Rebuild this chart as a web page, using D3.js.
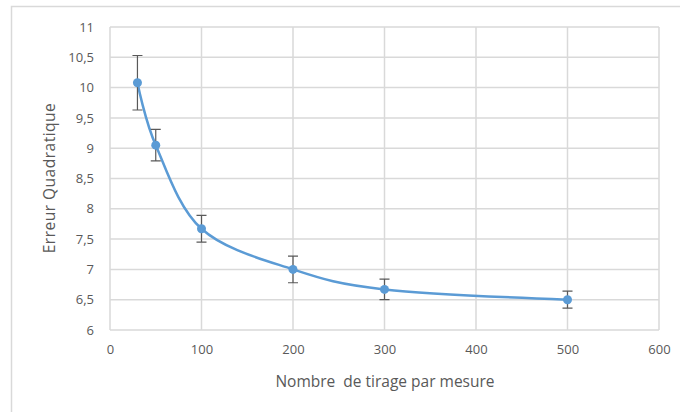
<!DOCTYPE html>
<html>
<head>
<meta charset="utf-8">
<script src="https://cdn.jsdelivr.net/npm/d3@7"></script>
<style>
  body { margin: 0; background: #fff; }
  svg text { font-family: "Open Sans", Lato, sans-serif; fill: #595959; }
</style>
</head>
<body>
<div id="chart"></div>
<script>
const WIDTH = 680;
const HEIGHT = 412;

// data
const tirages = [30, 50, 100, 200, 300, 500];
const erreurs = [10.08, 9.05, 7.67, 7.0, 6.67, 6.5];
const ecarts = [0.45, 0.26, 0.22, 0.22, 0.17, 0.14];

const xTicks = [0, 100, 200, 300, 400, 500, 600];
const yTicks = [6, 6.5, 7, 7.5, 8, 8.5, 9, 9.5, 10, 10.5, 11];

const MARGIN = { top: 27, bottom: 82, left: 110, right: 21 };

const svg = d3.select("#chart").append("svg")
    .attr("width", WIDTH)
    .attr("height", HEIGHT);

// outer chart frame
svg.append("rect")
    .attr("x", 11.5).attr("y", 6.5)
    .attr("width", 700).attr("height", 420)
    .attr("fill", "#fff")
    .attr("stroke", "#d9d9d9")
    .attr("stroke-width", 1.5);

const x = d3.scaleLinear()
    .domain([0, 600])
    .range([MARGIN.left, WIDTH - MARGIN.right]);

const y = d3.scaleLinear()
    .domain([6, 11])
    .range([HEIGHT - MARGIN.bottom, MARGIN.top]);

const fmt = (d) => String(d).replace(".", ",");

// grid
const grid = svg.append("g");
grid.selectAll(".hgrid")
    .data(yTicks)
    .join("line")
    .attr("x1", x(0)).attr("x2", x(600))
    .attr("y1", (d) => y(d)).attr("y2", (d) => y(d))
    .attr("stroke", "#d9d9d9")
    .attr("stroke-width", 1.5);
grid.selectAll(".vgrid")
    .data(xTicks)
    .join("line")
    .attr("y1", y(6)).attr("y2", y(11))
    .attr("x1", (d) => x(d)).attr("x2", (d) => x(d))
    .attr("stroke", "#d9d9d9")
    .attr("stroke-width", 1.5);

// axes (labels only, lines come from the grid)
let xAxis = svg.append("g")
    .attr("transform", `translate(0, ${y(6)})`)
    .call(d3.axisBottom(x).tickValues(xTicks).tickSize(0).tickPadding(15).tickFormat(fmt));
let yAxis = svg.append("g")
    .attr("transform", `translate(${x(0)}, 0)`)
    .call(d3.axisLeft(y).tickValues(yTicks).tickSize(0).tickPadding(16).tickFormat(fmt));
xAxis.select(".domain").remove();
yAxis.select(".domain").remove();
xAxis.selectAll("text").attr("font-size", 13).style("font-family", "'Open Sans', sans-serif").attr("fill", "#595959");
yAxis.selectAll("text").attr("font-size", 13).style("font-family", "'Open Sans', sans-serif").attr("fill", "#595959");

// titles
svg.append("text")
    .text("Nombre  de tirage par mesure")
    .attr("x", 385)
    .attr("y", 387)
    .attr("text-anchor", "middle")
    .attr("font-size", 15.5)
    .style("white-space", "pre");

svg.append("text")
    .text("Erreur Quadratique")
    .attr("transform", "translate(55, 178) rotate(-90)")
    .attr("text-anchor", "middle")
    .attr("font-size", 15.5)
    .attr("letter-spacing", 0.5);

const points = tirages.map((t, i) => ({ x: t, y: erreurs[i], e: ecarts[i] }));

// smoothed line
svg.append("path")
    .datum(points)
    .attr("fill", "none")
    .attr("stroke", "#5b9bd5")
    .attr("stroke-width", 2.5)
    .attr("d", d3.line()
        .x((d) => x(d.x))
        .y((d) => y(d.y))
        .curve(d3.curveCardinal.tension(0)));

// error bars
const bars = svg.append("g")
    .attr("stroke", "#595959")
    .attr("stroke-width", 1.2);
bars.selectAll(".bar")
    .data(points)
    .join("path")
    .attr("fill", "none")
    .attr("d", (d) => {
        const cx = x(d.x), top = y(d.y + d.e), bot = y(d.y - d.e);
        return `M${cx - 5},${top}H${cx + 5}M${cx},${top}V${bot}M${cx - 5},${bot}H${cx + 5}`;
    });

// markers
svg.selectAll(".pt")
    .data(points)
    .join("circle")
    .attr("cx", (d) => x(d.x))
    .attr("cy", (d) => y(d.y))
    .attr("r", 4.5)
    .attr("fill", "#5b9bd5");
</script>
</body>
</html>
